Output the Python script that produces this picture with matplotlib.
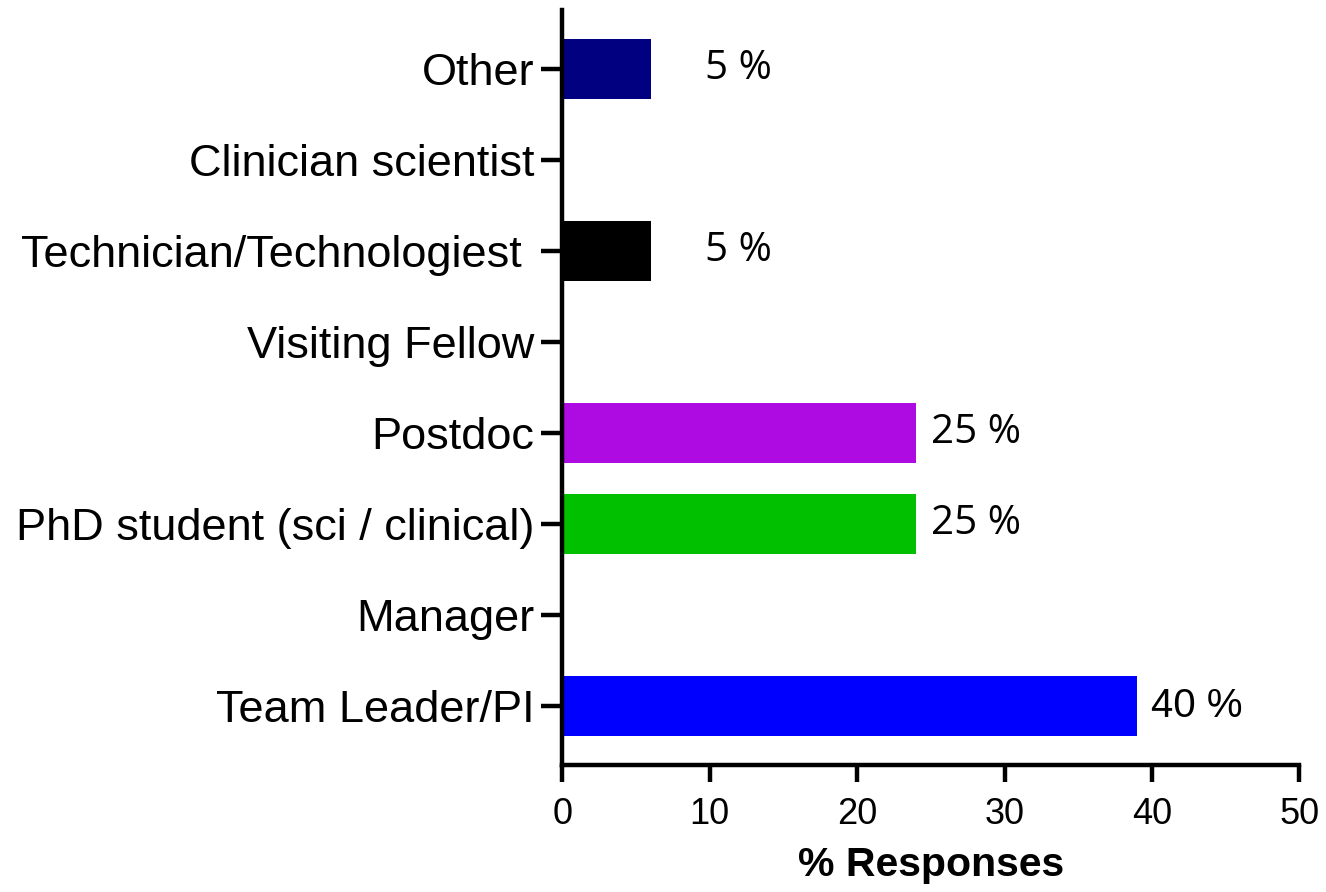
import matplotlib.pyplot as plt

roles = ["Team Leader/PI", "Manager", "PhD student (sci / clinical)", "Postdoc",
         "Visiting Fellow", "Technician/Technologiest ", "Clinician scientist", "Other"]
values = [39, 0, 24, 24, 0, 6, 0, 6]
colors = ["#0000FF", "#FFFFFF", "#00C000", "#AE0AE2", "#FFFFFF", "#000000", "#FFFFFF", "#000080"]
labels = ["40 %", "", "25 %", "25 %", "", "5 %", "", "5 %"]
label_pad = [10, 0, 11, 11, 0, 39, 0, 39]

fig = plt.figure(figsize=(13.26, 8.92), dpi=100)
ax = fig.add_axes([0.424, 0.142, 0.556, 0.847])

yn = range(len(roles))
ax.barh(yn, values, height=0.66, color=colors)

for i, lab in enumerate(labels):
    if lab == "":
        continue
    fam = ["Liberation Sans"] if lab == "40 %" else ["Open Sans", "DejaVu Sans"]
    ax.annotate(lab, (values[i], i), xytext=(label_pad[i], 0), textcoords="offset points",
                va="center", ha="left", fontsize=29, family=fam)

ax.set_xlim(0, 50)
ax.set_ylim(-0.65, 7.65)
ax.set_xticks(range(0, 51, 10))
ax.set_yticks(list(yn))
ax.set_yticklabels(roles, fontsize=32.5, family="Liberation Sans")
for t in ax.get_xticklabels():
    t.set_fontsize(26)
    t.set_family("Liberation Sans")
ax.set_xlabel("% Responses", fontsize=29.5, fontweight="bold", family="Liberation Sans", labelpad=10)

ax.spines["top"].set_visible(False)
ax.spines["right"].set_visible(False)
ax.spines["left"].set_linewidth(3.2)
ax.spines["bottom"].set_linewidth(3.2)
ax.tick_params(axis="y", length=15, width=3.2, pad=5)
ax.tick_params(axis="x", length=12, width=3.2, pad=11)

fig.savefig("out.png", dpi=100)
